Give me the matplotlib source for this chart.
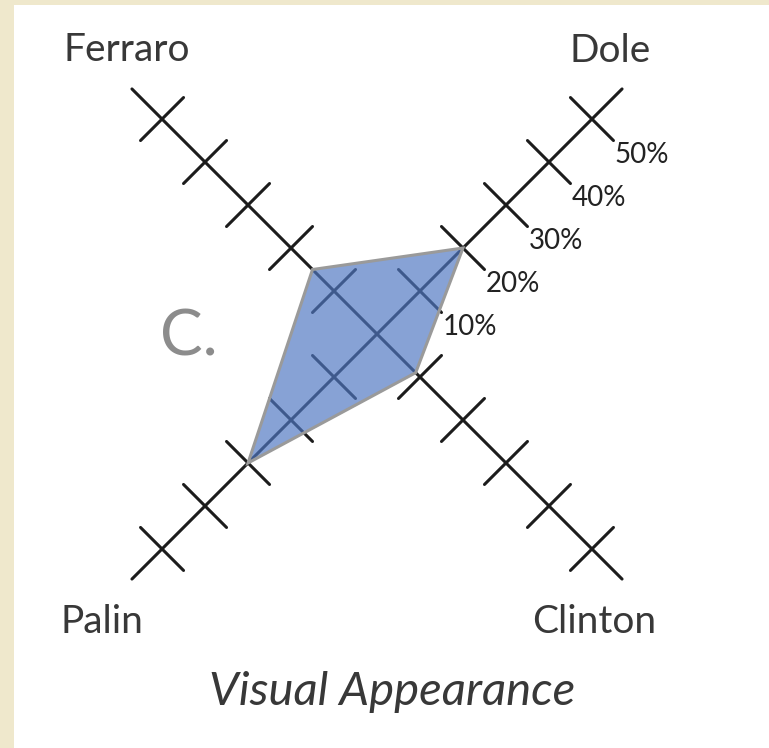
import numpy as np
import matplotlib
matplotlib.use("Agg")
import matplotlib.pyplot as plt
from matplotlib.patches import Rectangle, Polygon

# data
candidates = ["Dole", "Ferraro", "Palin", "Clinton"]
angles_deg = [45, 135, 225, 315]
values = [20, 15, 30, 9]          # percent
tick_values = [10, 20, 30, 40, 50]
tick_labels = ["10%", "20%", "30%", "40%", "50%"]

W, H = 769, 748
CX, CY = 377, 334          # centre of the cross, in pixels
PX = 6.08                  # pixels per percent along an axis
AXIS_LEN = 57
TICK_HALF = 5

plt.rcParams['font.family'] = ['Lato', 'DejaVu Sans']

fig = plt.figure(figsize=(W / 100, H / 100), dpi=100)
fig.patch.set_facecolor('#efe8cc')
fig.patches.append(Rectangle((14 / W, 0), 1, 1 - 5 / H, transform=fig.transFigure,
                             facecolor='white', edgecolor='none', zorder=-10))

ax = fig.add_axes([0, 0, 1, 1])
ax.set_facecolor('none')
ax.set_xlim(-CX / PX, (W - CX) / PX)
ax.set_ylim(-(H - CY) / PX, CY / PX)
ax.set_aspect('equal')
ax.axis('off')

ink = '#1c1c1c'
for ang in angles_deg:
    t = np.radians(ang)
    d = np.array([np.cos(t), np.sin(t)])
    p = np.array([-d[1], d[0]])
    ax.plot([0, AXIS_LEN * d[0]], [0, AXIS_LEN * d[1]], color=ink, lw=2.2,
            solid_capstyle='round', zorder=2)
    for v in tick_values:
        c = v * d
        a, b = c + TICK_HALF * p, c - TICK_HALF * p
        ax.plot([a[0], b[0]], [a[1], b[1]], color=ink, lw=2.2,
                solid_capstyle='round', zorder=2)

# percent labels along the Dole axis
t = np.radians(45)
d = np.array([np.cos(t), np.sin(t)])
p = np.array([d[1], -d[0]])
for v, lab in zip(tick_values, tick_labels):
    e = v * d + TICK_HALF * p
    ax.text(e[0] + 0.2, e[1] - 0.3, lab, ha='left', va='top', fontsize=20,
            color='#222222')

# value polygon
pts = [(v * np.cos(np.radians(a)), v * np.sin(np.radians(a)))
       for v, a in zip(values, angles_deg)]
ax.add_patch(Polygon(pts, closed=True, facecolor='#4f77c2', alpha=0.68,
                     edgecolor='none', zorder=3))
ax.add_patch(Polygon(pts, closed=True, facecolor='none', edgecolor='#9a9a9a',
                     lw=2.2, joinstyle='miter', zorder=4))


def ftext(x, y, s, **kw):
    fig.text(x / W, 1 - y / H, s, **kw)


lab_kw = dict(ha='center', va='baseline', fontsize=28, color='#383838')
ftext(127, 61, "Ferraro", **lab_kw)
ftext(610, 62, "Dole", **lab_kw)
ftext(102, 633, "Palin", **lab_kw)
ftext(594, 633, "Clinton", **lab_kw)
ftext(392, 705, "Visual Appearance", ha='center', va='baseline', fontsize=34,
      color='#383838', style='italic')
ftext(160, 356, "C.", ha='left', va='baseline', fontsize=46, color='#8c8c8c')

fig.savefig("out.png", dpi=100, facecolor=fig.get_facecolor())
